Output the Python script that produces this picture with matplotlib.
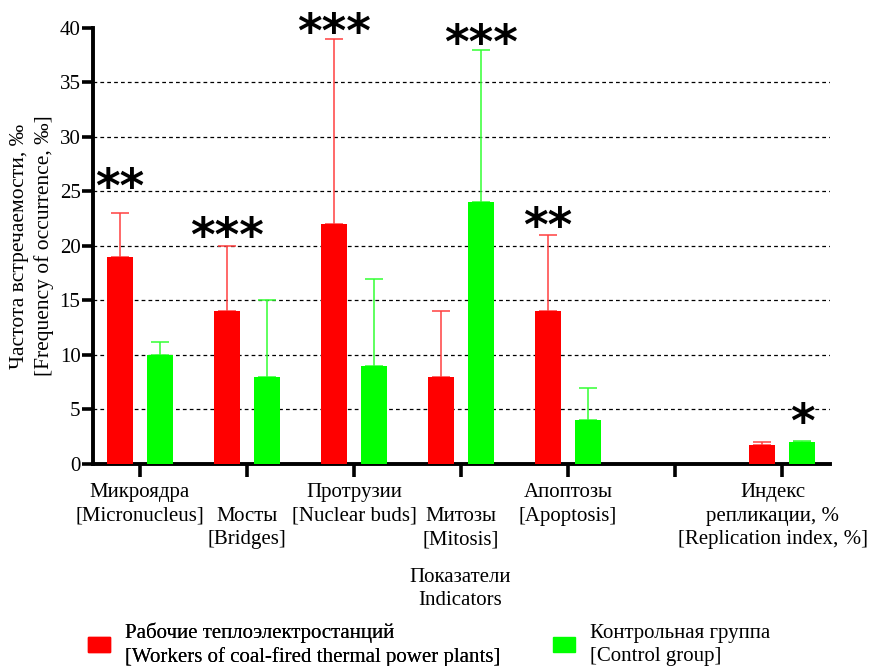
import matplotlib
matplotlib.use("Agg")
import matplotlib.pyplot as plt
import matplotlib.transforms as mtransforms
import numpy as np
from matplotlib.patches import Patch

# Indicators (group positions; slot 5 is intentionally left empty)
categories = [
    "Микроядра\n[Micronucleus]",
    "\nМосты\n[Bridges]",
    "Протрузии\n[Nuclear buds]",
    "\nМитозы\n[Mitosis]",
    "Апоптозы\n[Apoptosis]",
    "",
    "Индекс\nрепликации, %\n[Replication index, %]",
]
positions = [0, 1, 2, 3, 4, 6]          # groups that carry bars
tick_positions = [0, 1, 2, 3, 4, 5, 6]

workers = [19, 14, 22, 8, 14, 1.7]
workers_err = [4, 6, 17, 6, 7, 0.3]
control = [10, 8, 9, 24, 4, 2.0]
control_err = [1.2, 7, 8, 14, 3, 0.1]

# significance marks: (position, series, height, label)
stars = [
    (0, "workers", 25.2, "**"),
    (1, "workers", 20.7, "***"),
    (2, "workers", 39.4, "***"),
    (3, "control", 38.4, "***"),
    (4, "workers", 21.6, "**"),
    (6, "control", 3.6, "*"),
]

yticks = [0, 5, 10, 15, 20, 25, 30, 35, 40]

RED = "#ff0000"
GREEN = "#00ff00"
RED_ERR = "#ff4040"
GREEN_ERR = "#33ff33"
SERIF = "Liberation Serif"
FS = 15

plt.rcParams["font.family"] = SERIF

fig = plt.figure(figsize=(8.75, 6.66), dpi=100)
ax = fig.add_axes([0.1063, 0.3033, 0.8423, 0.6547])

width = 0.243
offset = 0.187
pos = np.array(positions, dtype=float)

ax.bar(pos - offset, workers, width, color=RED, zorder=3)
ax.bar(pos + offset, control, width, color=GREEN, zorder=3)
ax.errorbar(pos - offset, workers, yerr=[np.zeros(len(workers)), workers_err],
            fmt="none", ecolor=RED_ERR, elinewidth=1.1, capsize=6.5, capthick=1.1, zorder=2)
ax.errorbar(pos + offset, control, yerr=[np.zeros(len(control)), control_err],
            fmt="none", ecolor=GREEN_ERR, elinewidth=1.1, capsize=6.5, capthick=1.1, zorder=2)

# dashed horizontal grid
for y in yticks[1:-1]:
    ax.axhline(y, color="black", linestyle=(0, (3, 2.5)), linewidth=0.9, zorder=1)

for p, series, h, lab in stars:
    x = p - offset if series == "workers" else p + offset
    ax.text(x, h, lab, ha="center", va="center", fontsize=34, fontweight="bold",
            family="DejaVu Sans", zorder=4)

ax.set_xlim(-0.439, 6.449)
ax.set_ylim(0, 40)
ax.set_yticks(yticks)
ax.set_xticks(tick_positions)
ax.set_xticklabels(categories, fontsize=FS, linespacing=1.32, va="top", family=SERIF)
for t in ax.get_yticklabels():
    t.set_family(SERIF)
ax.tick_params(axis="y", labelsize=FS, width=2.6, length=8, direction="out", pad=1)
ax.tick_params(axis="x", width=2.6, length=9, direction="out", pad=5)

# nudge the last (widest) category label so it stays inside the figure
last = ax.get_xticklabels()[-1]
last.set_transform(last.get_transform() +
                   mtransforms.ScaledTranslation(-9 / 100, 0, fig.dpi_scale_trans))

for s in ["top", "right"]:
    ax.spines[s].set_visible(False)
for s in ["left", "bottom"]:
    ax.spines[s].set_linewidth(2.8)

ax.set_ylabel("Частота встречаемости, ‰\n[Frequency of occurrence, ‰]", fontsize=15.5,
              linespacing=1.36, labelpad=4, family=SERIF)

fig.text(0.526, 0.1156, "Показатели\nIndicators", ha="center", va="center",
         fontsize=FS, linespacing=1.24, family=SERIF)

leg_kw = dict(loc="center left", frameon=False, handlelength=1.06, handleheight=0.72,
              handletextpad=0.72, borderpad=0, borderaxespad=0,
              prop={"family": SERIF, "size": FS})
leg1 = fig.legend(handles=[Patch(color=RED)],
                  labels=["Рабочие теплоэлектростанций\n[Workers of coal-fired thermal power plants]"],
                  bbox_to_anchor=(0.1006, 0.0315), **leg_kw)
leg2 = fig.legend(handles=[Patch(color=GREEN)],
                  labels=["Контрольная группа\n[Control group]"],
                  bbox_to_anchor=(0.632, 0.0315), **leg_kw)
for leg in (leg1, leg2):
    for t in leg.get_texts():
        t.set_linespacing(1.3)
fig.add_artist(leg1)

fig.savefig("out.png", dpi=100)
